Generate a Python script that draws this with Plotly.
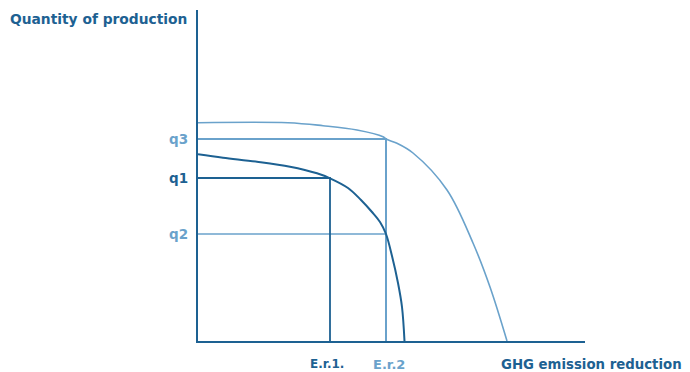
import plotly.graph_objects as go

# Curves (x: emission reduction, y: quantity of production)
inner_x = [0, 25, 59, 92, 119, 132, 150, 163, 174, 182, 188, 194, 200, 204, 206.5]
inner_y = [186.7, 183.3, 179.3, 174.3, 167.7, 162.7, 153, 141, 129, 119, 107, 85, 58, 34, 0]
outer_x = [0, 90, 125, 159, 185, 188, 199, 215, 249, 275, 292, 309]
outer_y = [218.3, 218.3, 215.3, 211, 204.3, 202, 197.7, 188, 151, 98, 54, 0]

# Reference levels
q_labels = ["q3", "q1", "q2"]
q_values = [202, 163, 107]
er_labels = ["E.r.1.", "E.r.2"]
er_values = [132, 188]

X_MAX = 387
Y_MAX = 331

DARK = "#1d6192"
LIGHT = "#6aa2cb"

fig = go.Figure()

# guide lines
fig.add_trace(go.Scatter(x=[0, er_values[1], er_values[1]], y=[q_values[0], q_values[0], 0],
                         mode="lines", line=dict(color=LIGHT, width=2), hoverinfo="skip"))
fig.add_trace(go.Scatter(x=[0, er_values[1]], y=[q_values[2], q_values[2]],
                         mode="lines", line=dict(color=LIGHT, width=1.5), hoverinfo="skip"))
fig.add_trace(go.Scatter(x=[0, er_values[0], er_values[0]], y=[q_values[1], q_values[1], 0],
                         mode="lines", line=dict(color=DARK, width=1.8), hoverinfo="skip"))

# curves
fig.add_trace(go.Scatter(x=outer_x, y=outer_y, mode="lines",
                         line=dict(color=LIGHT, width=1.6, shape="spline", smoothing=1.0),
                         hoverinfo="skip"))
fig.add_trace(go.Scatter(x=inner_x, y=inner_y, mode="lines",
                         line=dict(color=DARK, width=2, shape="spline", smoothing=1.0),
                         hoverinfo="skip"))


def px(v):
    return v / X_MAX


def py(v):
    return v / Y_MAX


FONT = "DejaVu Sans"
ann = []
q_colors = [LIGHT, DARK, LIGHT]
for lab, v, c in zip(q_labels, q_values, q_colors):
    ann.append(dict(x=px(-8), y=py(v), xref="paper", yref="paper", text=f"<b>{lab}</b>", showarrow=False,
                    xanchor="right", yanchor="middle", font=dict(family=FONT, size=13.5, color=c)))
ann.append(dict(x=px(er_values[0] - 3), y=py(-23), xref="paper", yref="paper",
                text="<b>" + er_labels[0] + "</b>",
                showarrow=False, xanchor="center", yanchor="middle",
                font=dict(family=FONT, size=12, color=DARK)))
ann.append(dict(x=px(er_values[1] + 3), y=py(-23), xref="paper", yref="paper",
                text="<b>" + er_labels[1] + "</b>",
                showarrow=False, xanchor="center", yanchor="middle",
                font=dict(family=FONT, size=13, color=LIGHT)))
ann.append(dict(x=px(486), y=py(-23), xref="paper", yref="paper", text="<b>GHG emission reduction</b>",
                showarrow=False, xanchor="right", yanchor="middle",
                font=dict(family=FONT, size=13.3, color=DARK)))
ann.append(dict(x=px(-190), y=py(322), xref="paper", yref="paper", text="<b>Quantity of production</b>",
                showarrow=False, xanchor="left", yanchor="middle",
                font=dict(family=FONT, size=13.8, color=DARK)))

fig.update_layout(
    width=682, height=364,
    margin=dict(l=190, r=105, t=2, b=31),
    paper_bgcolor="white", plot_bgcolor="white",
    showlegend=False,
    annotations=ann,
    xaxis=dict(range=[0, X_MAX], showgrid=False, zeroline=False, showticklabels=False, ticks="",
               showline=True, linecolor=DARK, linewidth=2),
    yaxis=dict(range=[0, Y_MAX], showgrid=False, zeroline=False, showticklabels=False, ticks="",
               showline=True, linecolor=DARK, linewidth=2),
)

fig.write_html("out.html")
